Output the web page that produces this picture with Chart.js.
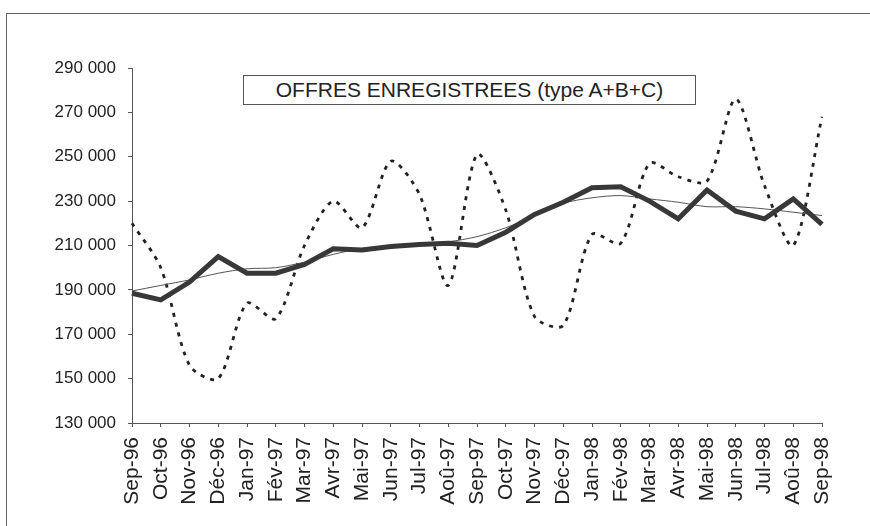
<!DOCTYPE html>
<html>
<head>
<meta charset="utf-8">
<script src="https://cdn.jsdelivr.net/npm/chart.js@4/dist/chart.umd.min.js"></script>
<style>
  html, body { margin: 0; padding: 0; background: #ffffff; }
  #wrap { position: relative; width: 870px; height: 526px; overflow: hidden; }
  #c { position: absolute; left: 0; top: 0; }
  #frame { position: absolute; left: 6px; top: 13px; width: 870px; height: 520px;
           border-top: 1.5px solid #666; border-left: 1.5px solid #666; pointer-events: none; }
  #title { position: absolute; left: 243px; top: 75px; width: 453px; height: 30px;
           border: 1px solid #555; box-sizing: border-box;
           font-family: "Liberation Sans", Arial, sans-serif; font-size: 21px; color: #222;
           line-height: 28px; text-align: center; pointer-events: none; background: #fff; }
</style>
</head>
<body>
<div id="wrap">
  <canvas id="c" width="870" height="526"></canvas>
  <div id="frame"></div>
  <div id="title">OFFRES ENREGISTREES (type A+B+C)</div>
</div>
<script>
const categories = ["Sep-96","Oct-96","Nov-96","Déc-96","Jan-97","Fév-97","Mar-97","Avr-97","Mai-97","Jun-97","Jul-97","Aoû-97","Sep-97","Oct-97","Nov-97","Déc-97","Jan-98","Fév-98","Mar-98","Avr-98","Mai-98","Jun-98","Jul-98","Aoû-98","Sep-98"];

// raw series (dotted)
const brut = [220000,200000,156000,150000,184000,177000,210000,230000,218000,248000,233000,192000,251000,226000,178000,174000,215000,211000,247000,241000,239000,276000,237000,210000,268000];
// seasonally adjusted (thick solid)
const cvs = [188500,185500,193500,205000,197500,197500,201500,208500,208000,209500,210500,211000,210000,216000,224000,229500,236000,236500,230000,222000,235000,225500,222000,231000,219500];
// trend (thin solid)
const tendance = [189500,192000,194500,197500,199500,200000,202500,206000,208700,209800,211000,211700,214000,218000,223500,229000,231500,232500,231000,229500,227500,227500,226500,225000,223500];

const yTicks = { min: 130000, max: 290000, step: 20000 };

function fmt(v) { return String(v).replace(/\B(?=(\d{3})+(?!\d))/g, ' '); }

const xFont = { family: "'Liberation Sans', Arial, sans-serif", size: 21 };
const yFont = { family: "'Liberation Sans', Arial, sans-serif", size: 17 };

new Chart(document.getElementById('c'), {
  type: 'line',
  data: {
    labels: categories,
    datasets: [
      { label: 'CVS', data: cvs, borderColor: '#383838', borderWidth: 5, tension: 0,
        pointRadius: 0, fill: false, order: 0, borderJoinStyle: 'miter' },
      { label: 'Tendance', data: tendance, borderColor: '#555', borderWidth: 1, tension: 0.3,
        pointRadius: 0, fill: false, order: 1 },
      { label: 'Brut', data: brut, borderColor: '#222', borderWidth: 2.8, borderDash: [4, 6],
        tension: 0.28, pointRadius: 0, fill: false, order: 2 }
    ]
  },
  options: {
    responsive: false,
    animation: false,
    events: [],
    layout: { padding: { left: 0, top: 68, right: 48, bottom: 0 } },
    plugins: { legend: { display: false }, tooltip: { enabled: false }, title: { display: false } },
    scales: {
      x: {
        type: 'category',
        offset: false,
        grid: { display: true, drawOnChartArea: false, drawTicks: true, tickLength: 4, color: '#555' },
        border: { display: true, color: '#555', width: 1 },
        ticks: { autoSkip: false, maxRotation: 90, minRotation: 90, padding: 10, color: '#222', font: xFont },
        afterFit: function (s) { s.height = 103; }
      },
      y: {
        min: yTicks.min, max: yTicks.max,
        grid: { display: true, drawOnChartArea: false, drawTicks: true, tickLength: 4, color: '#555' },
        border: { display: true, color: '#555', width: 1 },
        ticks: { stepSize: yTicks.step, padding: 12, color: '#222', font: yFont,
                 callback: function (v) { return fmt(v); } },
        afterFit: function (s) { s.width = 132; }
      }
    }
  }
});
</script>
</body>
</html>
